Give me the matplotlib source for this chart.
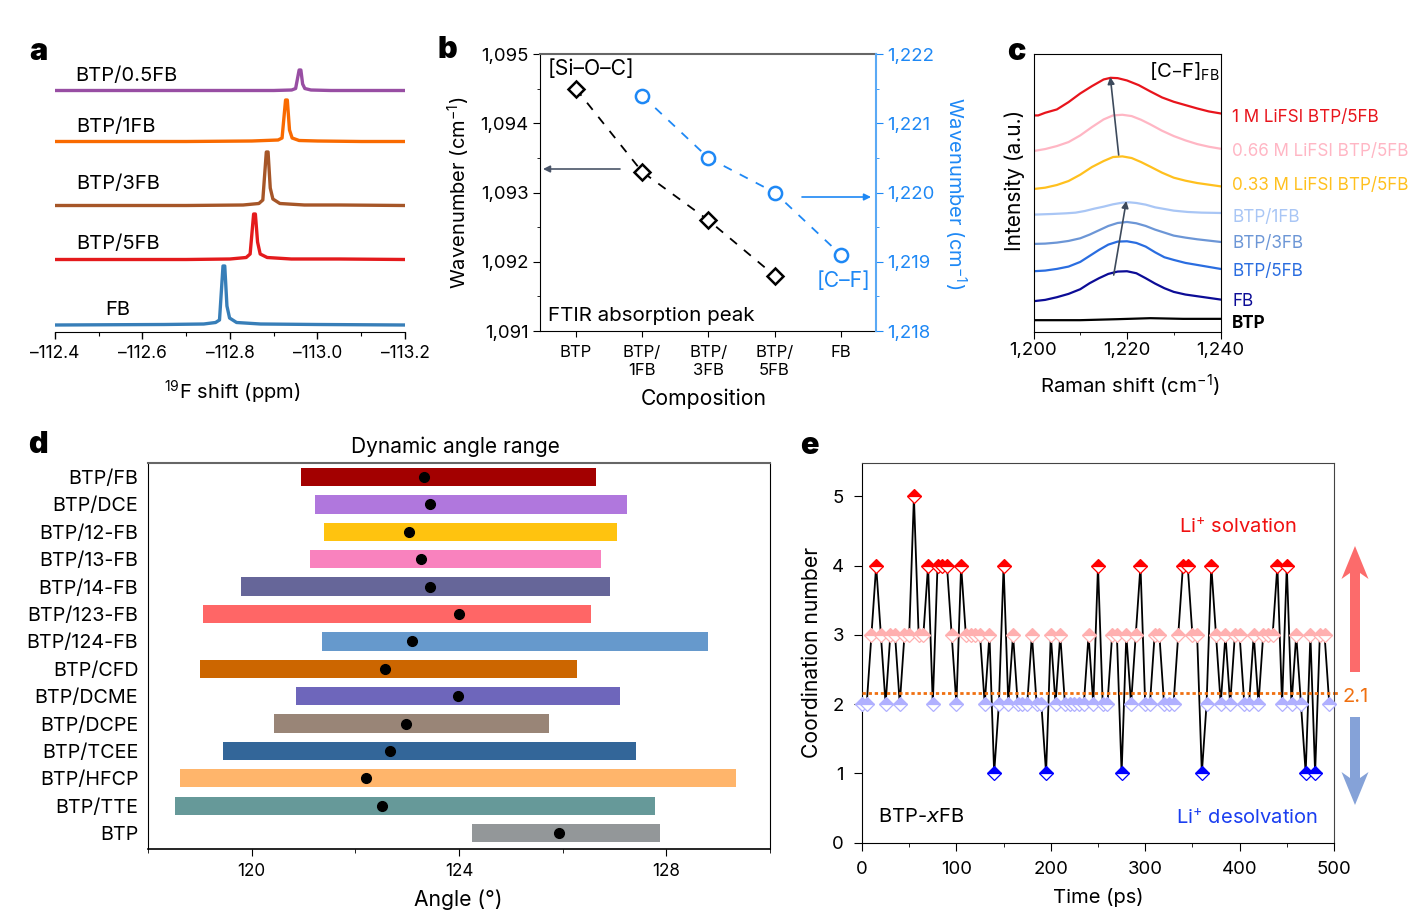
import numpy as np
import matplotlib
matplotlib.use("Agg")
import matplotlib.pyplot as plt
from matplotlib.ticker import MultipleLocator, FuncFormatter

plt.rcParams['font.family'] = ['Inter', 'DejaVu Sans']
plt.rcParams['mathtext.default'] = 'regular'
plt.rcParams['axes.unicode_minus'] = False

W, H = 1419, 921

# ── Panel a data: 19F NMR (heights above the x axis, a.u.) ────────
a_colors = ["#377eb8", "#e41a1c", "#a65628", "#f96a00", "#984ea3"]
a_x = [
    [-112.4, -112.65, -112.74, -112.767, -112.776, -112.784, -112.788, -112.793, -112.799, -112.815, -112.87, -113.0, -113.2],
    [-112.4, -112.7, -112.8, -112.837, -112.846, -112.854, -112.858, -112.863, -112.869, -112.885, -112.94, -113.05, -113.2],
    [-112.4, -112.7, -112.83, -112.866, -112.875, -112.883, -112.887, -112.892, -112.898, -112.914, -112.97, -113.05, -113.2],
    [-112.4, -112.7, -112.85, -112.91, -112.919, -112.927, -112.931, -112.936, -112.942, -112.958, -113.0, -113.1, -113.2],
    [-112.4, -112.7, -112.9, -112.941, -112.950, -112.958, -112.962, -112.966, -112.971, -112.985, -113.03, -113.1, -113.2],
]
a_y = [
    [7, 7.5, 8, 9.5, 12, 66, 66, 26, 14, 9.5, 8, 7.5, 7],
    [72.5, 72.5, 73, 74.5, 78, 118, 118, 90, 78, 74.5, 73, 73, 72.5],
    [126.5, 126.5, 127, 128.5, 132, 180, 180, 144, 133, 128.5, 127, 127, 126.5],
    [190.5, 190.5, 191, 192, 194, 232, 232, 202, 194, 191.5, 191, 190.5, 190.5],
    [241.5, 241.5, 241.5, 242, 243.5, 262, 262, 248, 243.5, 242, 241.5, 241.5, 241.5],
]
a_ticks = [-112.4, -112.6, -112.8, -113.0, -113.2]

# ── Panel b data: FTIR peaks ──────────────────────────────────────
b_labels = ["BTP", "BTP/\n1FB", "BTP/\n3FB", "BTP/\n5FB", "FB"]
b_pos = [0, 1, 2, 3, 4]
sioc_pos = [0, 1, 2, 3]
sioc_vals = [1094.5, 1093.3, 1092.6, 1091.8]
cf_pos = [1, 2, 3, 4]
cf_vals = [1221.4, 1220.5, 1220.0, 1219.1]

# ── Panel c data: Raman curves (a.u.) ─────────────────────────────
c_names = ["1 M LiFSI BTP/5FB", "0.66 M LiFSI BTP/5FB", "0.33 M LiFSI BTP/5FB",
           "BTP/1FB", "BTP/3FB", "BTP/5FB", "FB", "BTP"]
c_colors = ["#e8141c", "#ffb6c4", "#ffc01e", "#a9c6f5", "#6c96d6", "#2a6de0", "#0c0c96", "#000000"]
c_x_red = [1200, 1201, 1202.5, 1205, 1207.5, 1210, 1212.5, 1215, 1216.5, 1218, 1220, 1222.5, 1225, 1227.5, 1230, 1232.5, 1235, 1237.5, 1240]
c_x_mid = [1200, 1202.5, 1205, 1207.5, 1210, 1212.5, 1215, 1217, 1219, 1221, 1223, 1225, 1227.5, 1230, 1232.5, 1235, 1237.5, 1240]
c_x_1fb = [1200, 1204, 1207, 1209, 1211, 1213, 1215, 1217, 1219, 1220.5, 1222, 1224, 1226, 1228, 1230, 1233, 1236, 1240]
c_x_low = [1200, 1202.5, 1205, 1207.5, 1210, 1212, 1214, 1216, 1218, 1220, 1222, 1224, 1226, 1228, 1230, 1232.5, 1235, 1240]
c_x_btp = [1200, 1210, 1218, 1225, 1232, 1240]
c_x = [c_x_red, c_x_mid, c_x_mid, c_x_1fb, c_x_low, c_x_low, c_x_low, c_x_btp]
c_y = [
    [652, 652, 660, 670, 692, 718, 740, 760, 765, 764, 757, 743, 724, 706, 693, 683, 673, 664, 658],
    [545, 551, 560, 572, 592, 617, 640, 652, 654, 650, 639, 625, 606, 590, 577, 566, 558, 552],
    [431, 435, 443, 455, 474, 497, 515, 527, 529, 524, 512, 498, 480, 465, 456, 449, 444, 439],
    [354, 356, 358, 360, 365, 372, 378, 385, 390, 391, 389, 384, 376, 371, 366, 362, 360, 359],
    [266, 267, 270, 275, 283, 294, 307, 320, 329, 332, 328, 320, 309, 300, 291, 285, 280, 272],
    [184, 186, 191, 198, 212, 230, 248, 264, 273, 274, 269, 258, 241, 226, 218, 209, 203, 191],
    [94, 98, 106, 116, 130, 148, 163, 176, 183, 184, 178, 163, 147, 133, 122, 114, 109, 99],
    [37, 37, 40, 43, 41, 41],
]
c_label_y = [115, 149, 184, 215, 242, 270, 299, 322]

# ── Panel d data: angle ranges ────────────────────────────────────
d_names = ["BTP/FB", "BTP/DCE", "BTP/12-FB", "BTP/13-FB", "BTP/14-FB", "BTP/123-FB", "BTP/124-FB",
           "BTP/CFD", "BTP/DCME", "BTP/DCPE", "BTP/TCEE", "BTP/HFCP", "BTP/TTE", "BTP"]
d_low = [120.95, 121.23, 121.40, 121.13, 119.80, 119.06, 121.35, 119.00, 120.85, 120.43, 119.45, 118.62, 118.52, 124.26]
d_high = [126.64, 127.24, 127.04, 126.74, 126.92, 126.55, 128.81, 126.27, 127.10, 125.74, 127.41, 129.34, 127.78, 127.88]
d_mean = [123.32, 123.44, 123.04, 123.27, 123.44, 124.00, 123.09, 122.57, 123.98, 122.98, 122.67, 122.21, 122.52, 125.93]
d_colors = ["#a30000", "#b077dd", "#ffc30f", "#f982be", "#666699", "#ff6666", "#6699cc",
            "#cc6600", "#6e66bb", "#998577", "#336699", "#ffb56b", "#669999", "#939799"]

# ── Panel e data: coordination number every 5 ps ──────────────────
e_cn = np.array([
    2, 2, 3, 4, 3, 2, 3, 3, 2, 3, 3, 5, 3, 3, 4, 2, 4, 4, 4, 3,
    2, 4, 3, 3, 3, 3, 2, 3, 1, 2, 4, 2, 3, 2, 2, 2, 3, 2, 2, 1,
    3, 2, 3, 2, 2, 2, 2, 2, 3, 2, 4, 2, 2, 3, 3, 1, 3, 2, 3, 4,
    2, 2, 3, 3, 2, 2, 2, 3, 4, 4, 3, 3, 1, 2, 4, 3, 2, 3, 2, 3,
    3, 2, 2, 3, 2, 3, 3, 3, 4, 2, 4, 2, 3, 2, 1, 3, 1, 3, 3, 2,
])
e_time = np.arange(0, 500, 5)
e_mean = 2.16


def add_box(l, t, r, b):
    return fig.add_axes([l / W, 1 - b / H, (r - l) / W, (b - t) / H])


def px_text(x, y, s, **kw):
    kw.setdefault('va', 'center')
    return fig.text(x / W, 1 - (y + 2) / H, s, **kw)


def px_arrow(x0, y0, x1, y1, color, lw=1.2):
    fig.add_artist(matplotlib.patches.FancyArrowPatch(
        (x0 / W, 1 - y0 / H), (x1 / W, 1 - y1 / H), transform=fig.transFigure,
        arrowstyle='-|>', mutation_scale=10, color=color, lw=lw, shrinkA=0, shrinkB=0, zorder=10))


def xlabel_at(ax, box, s, x, y, **kw):
    l, t, r, b = box
    ax.set_xlabel(s, va='center', ha='center', **kw)
    ax.xaxis.set_label_coords((x - l) / (r - l), (b - y - 1.5) / (b - t))


def ylabel_at(ax, box, s, x, y, **kw):
    l, t, r, b = box
    ax.set_ylabel(s, va='center', ha='center', **kw)
    ax.yaxis.set_label_coords((x - l) / (r - l), (b - y) / (b - t))


comma = FuncFormatter(lambda v, _: f"{v:,.0f}")
fig = plt.figure(figsize=(W / 100, H / 100), dpi=100, facecolor='white')
LAB = 14.5
AXL = 15.2
TICK = 13.4

# ── a ─────────────────────────────────────────────────────────────
box_a = (55, 57, 405, 332)
ax = add_box(*box_a)
for xs, ys, col in zip(a_x, a_y, a_colors):
    ax.plot(xs, ys, color=col, lw=2.4, solid_joinstyle='round', solid_capstyle='butt', clip_on=False)
ax.set_xlim(-112.4, -113.2)
ax.set_ylim(0, 275)
for s in ['top', 'left', 'right']:
    ax.spines[s].set_visible(False)
ax.set_yticks([])
ax.set_xticks(a_ticks)
ax.set_xticklabels([f"–{abs(v):.1f}" for v in a_ticks], fontsize=12.5)
ax.xaxis.set_minor_locator(MultipleLocator(0.1))
ax.tick_params(axis='x', which='major', length=5, width=1, pad=4.5)
ax.tick_params(axis='x', which='minor', length=3, width=0.8)
xlabel_at(ax, box_a, r"$^{19}$F shift (ppm)", 232, 391, fontsize=LAB)
for txt, x, y in [("BTP/0.5FB", 75, 74), ("BTP/1FB", 76, 125), ("BTP/3FB", 76, 182),
                  ("BTP/5FB", 76, 242), ("FB", 105, 308)]:
    px_text(x, y, txt, fontsize=LAB)

# ── b ─────────────────────────────────────────────────────────────
BLUE = "#1e88f5"
box_b = (540, 54, 876, 331)
ax = add_box(*box_b)
ax.plot(sioc_pos, sioc_vals, color='k', ls=(0, (5, 5)), lw=1.3, marker='D', ms=8.6,
        mfc='white', mec='k', mew=1.8)
ax.set_xlim(-0.54, 4.53)
ax.set_ylim(1091, 1095)
ax.set_xticks(b_pos)
ax.set_xticklabels(b_labels, fontsize=12, linespacing=1.3)
ax.yaxis.set_major_locator(MultipleLocator(1))
ax.yaxis.set_minor_locator(MultipleLocator(0.5))
ax.yaxis.set_major_formatter(comma)
ax.tick_params(axis='y', which='major', length=5, labelsize=TICK, pad=3)
ax.tick_params(axis='y', which='minor', length=2.5)
ax.tick_params(axis='x', length=4, pad=6)
ax.spines['top'].set_color('#666666')
ax.spines['top'].set_linewidth(1.5)
ax.spines['right'].set_visible(False)
ylabel_at(ax, box_b, "Wavenumber (cm$^{-1}$)", 459, 193, fontsize=LAB)
xlabel_at(ax, box_b, "Composition", 704, 397, fontsize=AXL)
ax2 = ax.twinx()
ax2.plot(cf_pos, cf_vals, color=BLUE, ls=(0, (5, 5)), lw=1.3, marker='o', ms=9.5,
         mfc='white', mec=BLUE, mew=1.8)
ax2.set_ylim(1218, 1222)
ax2.yaxis.set_major_locator(MultipleLocator(1))
ax2.yaxis.set_minor_locator(MultipleLocator(0.5))
ax2.yaxis.set_major_formatter(comma)
ax2.tick_params(axis='y', which='major', length=5, labelsize=TICK, colors=BLUE, pad=3)
ax2.tick_params(axis='y', which='minor', length=2.5, colors=BLUE)
ax2.spines['right'].set_color('#5aa9f5')
ax2.spines['right'].set_linewidth(1.5)
ax2.spines['left'].set_visible(False)
ax2.spines['top'].set_visible(False)
ax2.spines['bottom'].set_visible(False)
ax2.set_ylabel("Wavenumber (cm$^{-1}$)", color=BLUE, fontsize=LAB, rotation=270, va='center', ha='center')
ax2.yaxis.set_label_coords((955 - 540) / 336, (331 - 193) / 277)
px_text(548, 67, "[Si–O–C]", fontsize=AXL)
px_text(548, 314, "FTIR absorption peak", fontsize=14.8)
px_text(844, 279, "[C–F]", fontsize=AXL, color=BLUE, ha='center')
px_arrow(620, 169, 543, 169, '#4a5568')
px_arrow(802, 197, 871, 197, BLUE)

# ── c ─────────────────────────────────────────────────────────────
box_c = (1033.5, 54.5, 1220.5, 332.5)
ax = add_box(*box_c)
for xs, ys, col in zip(c_x, c_y, c_colors):
    ax.plot(xs, ys, color=col, lw=1.6)
ax.set_xlim(1200, 1240)
ax.set_ylim(0, 835)
ax.set_yticks([])
ax.set_xticks([1200, 1220, 1240])
ax.xaxis.set_major_formatter(comma)
ax.xaxis.set_minor_locator(MultipleLocator(10))
ax.tick_params(axis='x', which='major', length=5, labelsize=TICK, pad=2)
ax.tick_params(axis='x', which='minor', length=2.5)
xlabel_at(ax, box_c, "Raman shift (cm$^{-1}$)", 1130, 384, fontsize=14.7)
ylabel_at(ax, box_c, "Intensity (a.u.)", 1015, 180, fontsize=15)
px_text(1149, 70, "[C–F]$_{FB}$", fontsize=14.6)
for txt, col, y in zip(c_names, c_colors, c_label_y):
    px_text(1232, y, txt, fontsize=12.3, color=col, fontweight='bold' if txt == "BTP" else 'normal')
px_arrow(1118.7, 155, 1110.3, 77, '#3d4a5c')
px_arrow(1113.7, 275, 1126.3, 201, '#3d4a5c')

# ── d ─────────────────────────────────────────────────────────────
box_d = (148, 463, 770, 849)
ax = add_box(*box_d)
d_y = np.arange(len(d_names))
ax.barh(d_y, np.array(d_high) - np.array(d_low), left=d_low, height=0.67, color=d_colors)
ax.plot(d_mean, d_y, 'o', color='k', ms=7)
ax.set_xlim(118, 130)
ax.set_ylim(13.58, -0.51)
ax.set_yticks(d_y)
ax.set_yticklabels(d_names, fontsize=14.2)
ax.tick_params(axis='y', length=0, pad=7)
ax.set_xticks([120, 124, 128])
ax.xaxis.set_minor_locator(MultipleLocator(2))
ax.tick_params(axis='x', which='major', length=5, labelsize=12.3, pad=5)
ax.tick_params(axis='x', which='minor', length=3)
ax.spines['top'].set_color('#666666')
ax.spines['top'].set_linewidth(1.5)
ax.spines['bottom'].set_linewidth(1.2)
xlabel_at(ax, box_d, "Angle (°)", 458, 898, fontsize=AXL)
px_text(455, 445, "Dynamic angle range", fontsize=15, ha='center')

# ── e ─────────────────────────────────────────────────────────────
box_e = (862, 463, 1334, 842.5)
ax = add_box(*box_e)
ax.plot(e_time, e_cn, color='k', lw=1.3, zorder=2)
for val, col in [(4, '#ff0000'), (5, '#ff0000'), (1, '#0000ff'), (3, '#ffb0b0'), (2, '#b0b0ff')]:
    m = e_cn == val
    ax.plot(e_time[m], e_cn[m], ls='none', marker='D', ms=7.2, mfc=col, mec=col, mew=0.9,
            fillstyle='top', markerfacecoloralt='white', zorder=3, clip_on=False)
ax.axhline(e_mean, color='#f07010', lw=2, ls=(0, (1.2, 1)), zorder=4)
ax.plot([1, 1.009], [e_mean / 5.484] * 2, transform=ax.transAxes, color='#f07010', lw=2,
        ls=(0, (1.2, 1)), clip_on=False)
ax.set_xlim(0, 500)
ax.set_ylim(0, 5.484)
ax.set_xticks(range(0, 501, 100))
ax.set_yticks(range(0, 6))
ax.xaxis.set_minor_locator(MultipleLocator(50))
ax.tick_params(axis='both', which='major', length=6, labelsize=TICK, pad=7)
ax.tick_params(axis='x', which='minor', length=3)
ax.spines['top'].set_color('#444444')
ax.spines['right'].set_color('#444444')
xlabel_at(ax, box_e, "Time (ps)", 1098, 896, fontsize=LAB)
ylabel_at(ax, box_e, "Coordination number", 812, 652, fontsize=AXL)
px_text(1238, 525, "Li$^{+}$ solvation", fontsize=LAB, color='#f01010', ha='center')
px_text(1247, 816, "Li$^{+}$ desolvation", fontsize=LAB, color='#1a3ef0', ha='center')
px_text(878, 815, r"BTP-$\mathit{x}$FB", fontsize=LAB)
px_text(1356, 695, "2.1", fontsize=LAB, color='#f07010', ha='center')
for x0, y0, x1, y1, col in [(1355, 672, 1355, 546, '#fc6b6b'), (1355, 717, 1355, 805, '#85a2d8')]:
    sx = 1 / W
    sy = 1 / H
    d = np.sign(y0 - y1)
    fig.add_artist(matplotlib.patches.Polygon(
        [((x0 - 5) * sx, 1 - y0 * sy), ((x0 + 5) * sx, 1 - y0 * sy),
         ((x0 + 5) * sx, 1 - (y1 + d * 27) * sy), ((x0 + 13.5) * sx, 1 - (y1 + d * 33) * sy),
         (x0 * sx, 1 - y1 * sy),
         ((x0 - 13.5) * sx, 1 - (y1 + d * 33) * sy), ((x0 - 5) * sx, 1 - (y1 + d * 27) * sy)],
        closed=True, transform=fig.transFigure, facecolor=col, edgecolor='none'))

# ── panel letters ─────────────────────────────────────────────────
for s, x, y in [('a', 38, 50), ('b', 447, 48), ('c', 1016, 50), ('d', 38, 443), ('e', 809, 444)]:
    px_text(x, y, s, fontsize=22, fontweight='black', ha='center')

fig.savefig('out.png', dpi=100)
